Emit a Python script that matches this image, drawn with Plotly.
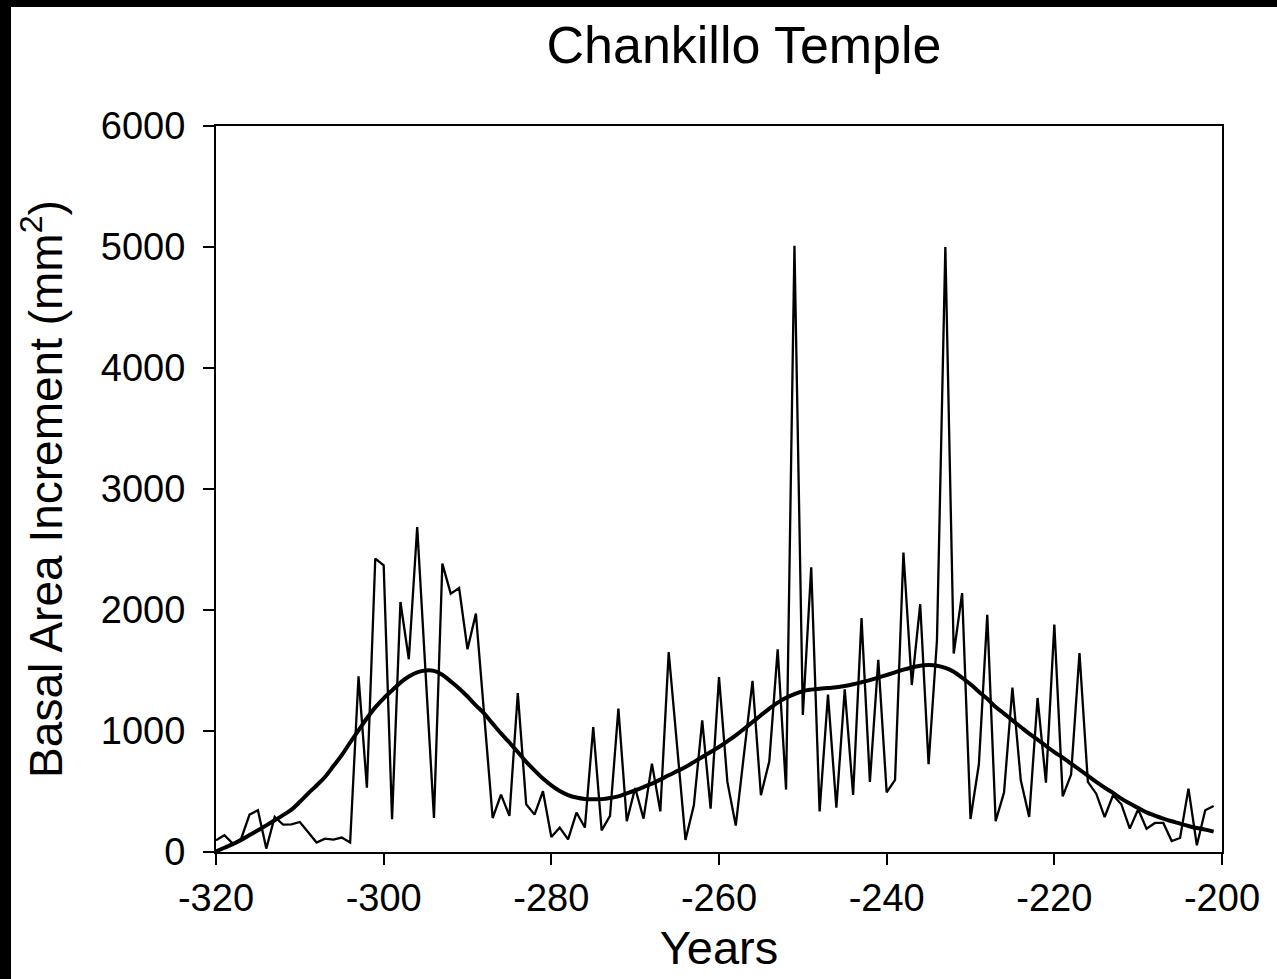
import plotly.graph_objects as go

years = list(range(-320, -200))

bai = [97, 138, 69, 110, 309, 345, 28, 290, 226, 229,
       248, 160, 78, 110, 102, 119, 78, 1452, 532, 2425,
       2369, 270, 2066, 1593, 2686, 1480, 281, 2383, 2135, 2182,
       1675, 1970, 1120, 281, 474, 298, 1314, 394, 309, 502,
       124, 202, 105, 326, 202, 1033, 179, 298, 1185, 255,
       529, 276, 730, 336, 1653, 870, 100, 386, 1088, 358,
       1446, 579, 218, 820, 1415, 469, 750, 1675, 516, 5010,
       1133, 2353, 336, 1300, 367, 1345, 471, 1933, 580, 1588,
       492, 596, 2475, 1380, 2048, 725, 1750, 5000, 1640, 2140,
       273, 725, 1960, 255, 491, 1359, 593, 289, 1273, 573,
       1879, 460, 640, 1645, 579, 482, 289, 469, 394, 193,
       353, 193, 240, 240, 91, 116, 524, 55, 345, 380]

smooth = [5, 35, 65, 100, 140, 180, 220, 262, 305, 350,
          415, 485, 550, 620, 710, 800, 905, 1005, 1105, 1195,
          1270, 1335, 1400, 1450, 1485, 1500, 1497, 1465, 1410, 1352,
          1285, 1212, 1144, 1061, 980, 905, 826, 745, 675, 607,
          551, 504, 471, 450, 438, 435, 437, 446, 460, 485,
          510, 537, 565, 598, 634, 668, 702, 743, 785, 826,
          868, 915, 964, 1018, 1074, 1130, 1185, 1235, 1275, 1305,
          1330, 1342, 1350, 1355, 1361, 1372, 1386, 1403, 1421, 1442,
          1463, 1485, 1507, 1525, 1540, 1545, 1540, 1522, 1490, 1440,
          1386, 1325, 1266, 1198, 1144, 1088, 1033, 978, 929, 876,
          826, 780, 730, 681, 631, 579, 532, 488, 441, 400,
          364, 328, 301, 276, 254, 235, 215, 198, 185, 168]

x_ticks = [-320, -300, -280, -260, -240, -220, -200]
y_ticks = [0, 1000, 2000, 3000, 4000, 5000, 6000]

W, H = 1277, 979
L, R, T, B = 216, 55, 126, 127
PW = W - L - R
PH = H - T - B


def px_x(X):
    return (X - L) / PW


def px_y(Y):
    return 1 - (Y - T) / PH


FONT = "Liberation Sans, Arial, sans-serif"

fig = go.Figure()
fig.add_trace(go.Scatter(x=years, y=bai, mode="lines",
                         line=dict(color="black", width=2.3), showlegend=False))
fig.add_trace(go.Scatter(x=years, y=smooth, mode="lines",
                         line=dict(color="black", width=4, shape="spline", smoothing=1.0),
                         showlegend=False))

axis_common = dict(
    showgrid=False, zeroline=False, showline=True, linecolor="black", linewidth=2,
    mirror=True, ticks="outside", ticklen=11, tickwidth=2, tickcolor="black",
    tickfont=dict(family=FONT, size=38, color="black"),
)

fig.update_xaxes(range=[-320, -200], tickvals=x_ticks, ticktext=[str(v) for v in x_ticks],
                 title=dict(text="Years", font=dict(family=FONT, size=47, color="black"), standoff=14),
                 **axis_common)
fig.update_yaxes(range=[0, 6000], tickvals=y_ticks, ticktext=[str(v) for v in y_ticks],
                 ticklabelstandoff=10,
                 title=dict(text="Basal Area Increment (mm<sup>2</sup>)",
                            font=dict(family=FONT, size=46, color="black"), standoff=24),
                 **axis_common)

shapes = [
    dict(type="rect", xref="paper", yref="paper", x0=px_x(0), x1=px_x(11), y0=px_y(H), y1=px_y(0),
         fillcolor="black", line=dict(width=0), layer="above"),
    dict(type="rect", xref="paper", yref="paper", x0=px_x(0), x1=px_x(W), y0=px_y(7), y1=px_y(0),
         fillcolor="black", line=dict(width=0), layer="above"),
]

fig.update_layout(
    width=W, height=H,
    margin=dict(l=L, r=R, t=T, b=B),
    paper_bgcolor="white", plot_bgcolor="white",
    title=dict(text="Chankillo Temple", font=dict(family=FONT, size=52, color="black"),
               xref="paper", x=px_x(744), xanchor="center",
               yref="container", y=1 - 45 / H, yanchor="middle"),
    shapes=shapes,
)

fig.write_html("out.html")
